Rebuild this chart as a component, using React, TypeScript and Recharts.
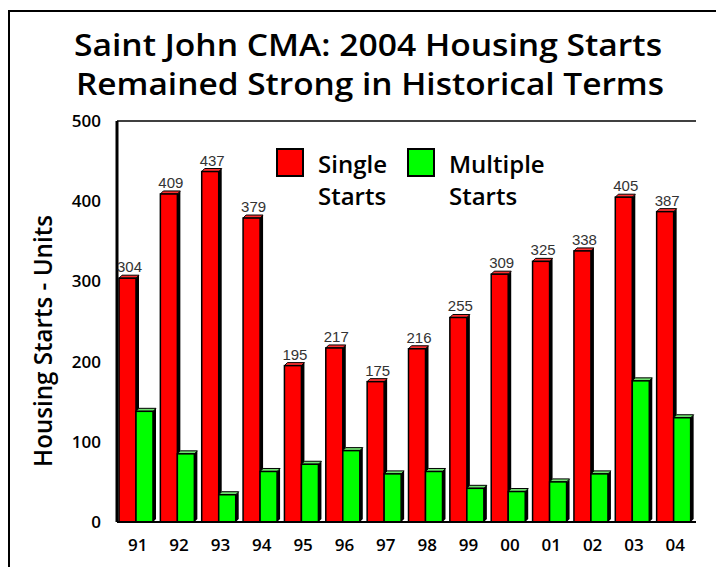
import React from 'react';
import {
  BarChart,
  Bar,
  XAxis,
  YAxis,
  ReferenceLine,
  LabelList,
  Legend
} from 'recharts';

const years = ['91', '92', '93', '94', '95', '96', '97', '98', '99', '00', '01', '02', '03', '04'];
const singleStarts = [304, 409, 437, 379, 195, 217, 175, 216, 255, 309, 325, 338, 405, 387];
const multipleStarts = [138, 85, 34, 63, 72, 89, 60, 63, 42, 38, 50, 60, 176, 130];
const yTicks = [0, 100, 200, 300, 400, 500];

const titleLines = ['Saint John CMA: 2004 Housing Starts', 'Remained Strong in Historical Terms'];
const yLabel = 'Housing Starts - Units';
const seriesOrder = ['single', 'multiple'];

const data = years.map((year, i) => ({
  year,
  single: singleStarts[i],
  multiple: multipleStarts[i]
}));

const FONT = "'Open Sans', 'DejaVu Sans', sans-serif";

// bar with a small 3D top face and dark side, like the old spreadsheet chart
function make3DBar(fill: string, topFill: string) {
  return (props: any) => {
    const { x, y, width, height } = props;
    if (!height || height <= 0) return <g />;
    const d = 3;
    const bx = x - 2;
    return (
      <g>
        <path
          d={`M${bx + width},${y} L${bx + width + d},${y - d} L${bx + width + d},${y + height - d} L${bx + width},${y + height} Z`}
          fill="#000"
        />
        <path
          d={`M${bx},${y} L${bx + d},${y - d} L${bx + width + d},${y - d} L${bx + width},${y} Z`}
          fill={topFill}
          stroke="#000"
          strokeWidth={1}
        />
        <rect x={bx} y={y} width={width} height={height} fill={fill} stroke="#000" strokeWidth={1.5} />
      </g>
    );
  };
}

const legendContent = (props: any) => {
  const items = [...(props.payload || [])].sort(
    (a: any, b: any) => seriesOrder.indexOf(a.dataKey) - seriesOrder.indexOf(b.dataKey)
  );
  return (
    <div style={{ display: 'flex', fontFamily: FONT, fontWeight: 600, fontSize: 24, lineHeight: '32px', color: '#000' }}>
      {items.map((p: any) => {
        const words = String(p.value).split(' ');
        return (
          <div key={p.value} style={{ display: 'flex', alignItems: 'flex-start', marginRight: 20 }}>
            <div
              style={{
                width: 24,
                height: 25,
                background: p.color,
                border: '2px solid #000',
                marginRight: 14
              }}
            />
            <div style={{ marginTop: 0 }}>
              {words.map((w: string) => (
                <div key={w}>{w}</div>
              ))}
            </div>
          </div>
        );
      })}
    </div>
  );
};

export default function App() {
  return (
    <div style={{ position: 'fixed', left: 0, top: 0, width: 716, height: 567, background: '#fff', overflow: 'hidden' }}>
      <div
        style={{
          position: 'absolute',
          left: 8,
          top: 10,
          width: 800,
          height: 700,
          borderTop: '2px solid #000',
          borderLeft: '2px solid #000'
        }}
      />
      <div style={{ position: 'absolute', left: 0, top: 0 }}>
        <BarChart
          width={716}
          height={567}
          data={data}
          margin={{ top: 121, right: 20, left: 17, bottom: 15 }}
          barGap={0}
          barSize={17}
        >
          <XAxis
            dataKey="year"
            height={30}
            axisLine={{ stroke: '#000', strokeWidth: 2 }}
            tickLine={false}
            tickMargin={11}
            tick={{ fill: '#000', fontSize: 17, fontWeight: 600, fontFamily: FONT }}
          />
          <YAxis
            width={100}
            domain={[0, 500]}
            ticks={yTicks}
            interval={0}
            axisLine={{ stroke: '#000', strokeWidth: 3 }}
            tickLine={false}
            tickMargin={10}
            tick={{ fill: '#000', fontSize: 17, fontWeight: 600, fontFamily: FONT }}
          />
          <YAxis
            yAxisId="frame"
            orientation="right"
            width={0}
            domain={[0, 500]}
            tick={false}
            tickLine={false}
            axisLine={{ stroke: '#000', strokeWidth: 1.5 }}
          />
          <ReferenceLine y={500} stroke="#000" strokeWidth={1.5} ifOverflow="visible" />
          <Legend
            layout="horizontal"
            align="center"
            verticalAlign="middle"
            content={legendContent}
            wrapperStyle={{ position: 'absolute', left: 276, top: 148, width: 360, height: 70 }}
          />
          <Bar
            dataKey="single"
            name="Single Starts"
            fill="#ff0000"
            shape={make3DBar('#ff0000', '#ff3030')}
            isAnimationActive={false}
          >
            <LabelList
              dataKey="single"
              position="top"
              offset={6}
              fill="#333"
              fontSize={15}
              fontFamily="'Liberation Sans Narrow', 'Liberation Sans', sans-serif"
            />
          </Bar>
          <Bar
            dataKey="multiple"
            name="Multiple Starts"
            fill="#00ff00"
            shape={make3DBar('#00ff00', '#70e070')}
            isAnimationActive={false}
          />
        </BarChart>
      </div>
      <svg
        width={716}
        height={567}
        style={{ position: 'absolute', left: 0, top: 0, pointerEvents: 'none' }}
      >
        <text x={74} y={56} fontFamily={FONT} fontWeight={600} fontSize={31} textLength={588} lengthAdjust="spacingAndGlyphs">
          {titleLines[0]}
        </text>
        <text x={76} y={95} fontFamily={FONT} fontWeight={600} fontSize={31} textLength={588} lengthAdjust="spacingAndGlyphs">
          {titleLines[1]}
        </text>
        <text
          x={52}
          y={341}
          transform="rotate(-90 52 341)"
          textAnchor="middle"
          fontFamily={FONT}
          fontWeight={600}
          fontSize={25}
          textLength={252}
          lengthAdjust="spacingAndGlyphs"
        >
          {yLabel}
        </text>
      </svg>
    </div>
  );
}
